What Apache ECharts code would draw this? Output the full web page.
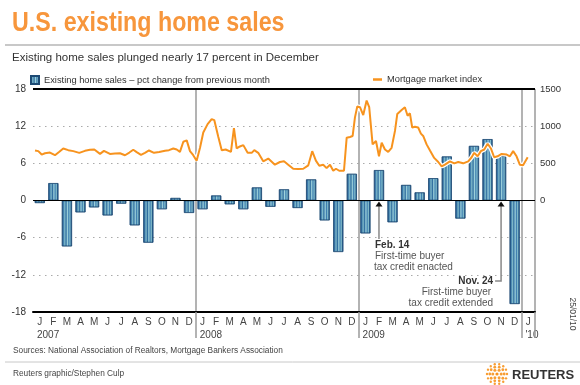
<!DOCTYPE html>
<html><head><meta charset="utf-8">
<script src="https://cdn.jsdelivr.net/npm/echarts@6/dist/echarts.min.js"></script>
<style>html,body{margin:0;padding:0;background:#fff}#c{width:580px;height:385px}</style>
</head><body><div id="c"></div>
<script>
// ---- data ----
const monthLetters = ['J','F','M','A','M','J','J','A','S','O','N','D'];
const categories = [].concat(monthLetters, monthLetters, monthLetters, ['J']);
const yearLabels = ['2007', '2008', '2009', "'10"];
const yearStartIndex = [0, 12, 24, 36];
// Existing home sales, pct change from previous month (Jan 2007 - Dec 2009)
const salesChange = [
  -0.4, 2.8, -7.4, -1.9, -1.1, -2.4, -0.5, -4.0, -6.8, -1.4, 0.4, -2.0,
  -1.4, 0.8, -0.6, -1.4, 2.1, -1.0, 1.8, -1.2, 3.4, -3.2, -8.3, 4.3,
  -5.3, 4.9, -3.5, 2.5, 1.3, 3.6, 7.1, -2.9, 8.8, 9.9, 7.2, -16.7,
  null
];
// Mortgage market index (weekly-ish), position in months since Jan 2007
const mortgageMonth = [
  0.15,0.39,0.64,0.88,1.25,1.62,1.94,2.23,2.60,2.97,
  3.41,3.83,4.20,4.52,4.94,5.23,5.67,6.04,6.41,6.78,
  7.10,7.39,7.64,7.96,8.25,8.55,8.92,9.30,9.73,10.02,
  10.34,10.59,10.83,11.08,11.33,11.57,11.81,12.06,12.31,12.55,
  12.87,13.17,13.36,13.66,13.91,14.20,14.59,14.81,15.01,15.25,
  15.50,15.82,16.12,16.31,16.60,16.97,17.34,17.83,18.20,18.50,
  18.81,19.18,19.55,19.92,20.29,20.58,20.85,21.10,21.39,21.64,
  21.89,22.13,22.33,22.57,22.92,23.12,23.36,23.56,23.73,23.90,
  24.10,24.34,24.59,24.78,25.03,25.28,25.50,25.70,25.94,26.18,
  26.43,26.68,26.85,27.17,27.41,27.61,27.78,27.95,28.15,28.39,
  28.59,28.76,29.01,29.26,29.57,29.87,30.12,30.36,30.73,31.05,
  31.34,31.71,32.08,32.33,32.52,32.77,33.01,33.26,33.51,33.75,
  33.99,34.24,34.54,34.91,35.15,35.39,35.64,35.88,36.12,36.46
];
const mortgageIndex = [
  673,664,618,636,645,609,655,700,677,664,
  641,668,682,686,627,668,627,632,636,609,
  645,682,650,614,641,673,641,652,668,677,
  700,686,655,791,809,664,609,536,709,914,
  1027,1095,1082,855,677,686,655,973,700,727,
  745,641,641,677,641,527,564,482,518,527,
  482,427,423,427,473,664,536,468,482,436,
  482,400,427,400,400,845,855,868,1118,1264,
  1255,1150,1345,1255,755,800,595,777,686,655,
  709,936,1164,1218,1255,1141,1173,982,991,982,
  900,868,755,673,573,518,459,482,527,500,
  518,500,527,582,641,595,664,686,764,700,
  582,595,627,618,595,664,595,482,473,582
];
const salesName = 'Existing home sales \u2013 pct change from previous month';
const mortgageName = 'Mortgage market index';

// ---- chart ----
const chart = echarts.init(document.getElementById('c'), null, {renderer: 'canvas'});
const FONT = 'Arial, "Liberation Sans", Helvetica, sans-serif';
const yearTick = (i) => i > 0 && i % 12 === 0;
const mortgagePairs = mortgageMonth.map((t, i) => [t, mortgageIndex[i]]);
const barGrad = new echarts.graphic.LinearGradient(0, 0, 1, 0, [
  {offset: 0, color: '#1d4f80'}, {offset: 0.14, color: '#3a78aa'},
  {offset: 0.28, color: '#7fb9c9'}, {offset: 0.42, color: '#2f6d9f'},
  {offset: 0.55, color: '#9fd3dc'}, {offset: 0.68, color: '#3f7fb0'},
  {offset: 0.8, color: '#86c0cc'}, {offset: 0.92, color: '#2a6396'},
  {offset: 1, color: '#1d4f80'}
]);

chart.setOption({
  animation: false,
  backgroundColor: '#fff',
  textStyle: {fontFamily: FONT},
  legend: [
    {data: [salesName], left: 30, top: 75, itemWidth: 8, itemHeight: 8, selectedMode: false,
      icon: 'rect', textStyle: {fontSize: 9.3, color: '#333', fontFamily: FONT}, padding: 0},
    {data: [mortgageName], left: 373, top: 75, itemWidth: 9, itemHeight: 2.5, selectedMode: false,
      icon: 'rect', itemGap: 2, textStyle: {fontSize: 9.3, color: '#333', fontFamily: FONT}, padding: 0}
  ],
  grid: {left: 33, right: 45, top: 89, bottom: 73, containLabel: false},
  xAxis: [
    {type: 'category', data: categories, boundaryGap: true, gridIndex: 0,
      axisLine: {onZero: false, lineStyle: {color: '#000', width: 2}},
      axisTick: {show: true, interval: yearTick, length: 26, lineStyle: {color: '#9a9a9a', width: 1.5}},
      axisLabel: {interval: 0, fontSize: 10, color: '#444', margin: 5, fontFamily: FONT},
      splitLine: {show: true, interval: yearTick, lineStyle: {color: '#9a9a9a', width: 1.5}}},
    {type: 'value', min: 0, max: 37, show: false, gridIndex: 0}
  ],
  yAxis: [
    {type: 'value', min: -18, max: 18, interval: 6,
      axisLine: {show: false}, axisTick: {show: false},
      axisLabel: {fontSize: 10, color: '#333', margin: 7, fontFamily: FONT},
      splitLine: {show: true, lineStyle: {color: '#aaa', width: 1, type: [1.5, 4.5]}}},
    {type: 'value', min: -1500, max: 1500, interval: 500, position: 'right',
      axisLine: {show: false}, axisTick: {show: false},
      axisLabel: {fontSize: 9.5, color: '#333', margin: 5, fontFamily: FONT,
        formatter: (v) => (v >= 0 ? String(v) : '')},
      splitLine: {show: false}}
  ],
  series: [
    {name: salesName, type: 'bar', xAxisIndex: 0, yAxisIndex: 0, data: salesChange,
      barWidth: 10, itemStyle: {color: barGrad, borderColor: '#1d4a74', borderWidth: 0.6},
      markLine: {silent: true, symbol: ['none', 'none'], label: {show: false},
        data: [
          {yAxis: 0, lineStyle: {color: '#000', width: 1.2, type: 'solid'}},
          {yAxis: 18, lineStyle: {color: '#000', width: 2, type: 'solid'}}
        ]}},
    {type: 'line', xAxisIndex: 1, yAxisIndex: 1, data: mortgagePairs, showSymbol: false,
      silent: true, lineStyle: {color: '#fff', width: 4.5}, itemStyle: {color: '#fff'}},
    {name: mortgageName, type: 'line', xAxisIndex: 1, yAxisIndex: 1, data: mortgagePairs,
      showSymbol: false, lineStyle: {color: '#f7931e', width: 2}, itemStyle: {color: '#f7931e'}}
  ]
});

// ---- annotations & decorations ----
function buildGraphics() {
  const g = [];
  const band = chart.convertToPixel({seriesIndex: 0}, [1, 0])[0] - chart.convertToPixel({seriesIndex: 0}, [0, 0])[0];
  // title (horizontally condensed)
  g.push({type: 'text', x: 12, y: 23, scaleX: 0.83, style: {text: 'U.S. existing home sales', fill: '#f7963c',
    font: 'bold 28px ' + FONT, verticalAlign: 'middle'}});
  // rule under title
  g.push({type: 'line', shape: {x1: 5, y1: 45, x2: 580, y2: 45}, style: {stroke: '#c8c8c8', lineWidth: 2}});
  g.push({type: 'text', x: 12, y: 58, style: {text: 'Existing home sales plunged nearly 17 percent in December',
    fill: '#333', font: '11.5px ' + FONT, verticalAlign: 'middle'}});
  // year labels
  yearLabels.forEach((lab, k) => {
    const c = chart.convertToPixel({seriesIndex: 0}, [yearStartIndex[k], 0])[0];
    g.push({type: 'text', x: c - band / 2 + 4, y: 335, style: {text: lab, fill: '#444',
      font: '10px ' + FONT, verticalAlign: 'middle'}});
  });
  // Feb 14 annotation
  const feb = chart.convertToPixel({seriesIndex: 0}, [25, 0]);
  g.push({type: 'line', shape: {x1: feb[0], y1: feb[1] + 4, x2: feb[0], y2: 239}, style: {stroke: '#888', lineWidth: 1.5}});
  g.push({type: 'polygon', shape: {points: [[feb[0], feb[1] + 1], [feb[0] - 3.5, feb[1] + 6], [feb[0] + 3.5, feb[1] + 6]]}, style: {fill: '#111'}});
  g.push({type: 'text', x: feb[0] - 4, y: 245, style: {text: 'Feb. 14', fill: '#333', font: 'bold 10px ' + FONT, verticalAlign: 'middle'}});
  g.push({type: 'text', x: feb[0] - 4, y: 256, style: {text: 'First-time buyer', fill: '#555', font: '10px ' + FONT, verticalAlign: 'middle'}});
  g.push({type: 'text', x: feb[0] - 5, y: 267, style: {text: 'tax credit enacted', fill: '#555', font: '10px ' + FONT, verticalAlign: 'middle'}});
  // Nov 24 annotation
  const nov = chart.convertToPixel({seriesIndex: 0}, [34, 0]);
  g.push({type: 'polyline', shape: {points: [[nov[0], nov[1] + 4], [nov[0], 281], [nov[0] - 6, 281]]}, style: {stroke: '#888', lineWidth: 1.5, fill: null}});
  g.push({type: 'polygon', shape: {points: [[nov[0], nov[1] + 1], [nov[0] - 3.5, nov[1] + 6], [nov[0] + 3.5, nov[1] + 6]]}, style: {fill: '#111'}});
  g.push({type: 'text', x: nov[0] - 8, y: 281, style: {text: 'Nov. 24', fill: '#333', font: 'bold 10px ' + FONT, align: 'right', verticalAlign: 'middle'}});
  g.push({type: 'text', x: nov[0] - 10, y: 292, style: {text: 'First-time buyer', fill: '#555', font: '10px ' + FONT, align: 'right', verticalAlign: 'middle'}});
  g.push({type: 'text', x: nov[0] - 8, y: 303, style: {text: 'tax credit extended', fill: '#555', font: '10px ' + FONT, align: 'right', verticalAlign: 'middle'}});
  // date stamp
  g.push({type: 'text', x: 572, y: 314, rotation: -Math.PI / 2, style: {text: '25/01/10', fill: '#444',
    font: '8.5px ' + FONT, align: 'center', verticalAlign: 'middle'}});
  // footer
  g.push({type: 'text', x: 13, y: 351, style: {text: 'Sources: National Association of Realtors, Mortgage Bankers Association',
    fill: '#444', font: '8.3px ' + FONT, verticalAlign: 'middle'}});
  g.push({type: 'line', shape: {x1: 5, y1: 362, x2: 580, y2: 362}, style: {stroke: '#c8c8c8', lineWidth: 1}});
  g.push({type: 'text', x: 13, y: 374, style: {text: 'Reuters graphic/Stephen Culp', fill: '#444', font: '8.3px ' + FONT, verticalAlign: 'middle'}});
  // Reuters logo
  const lx = 497, ly = 374;
  g.push({type: 'circle', shape: {cx: lx, cy: ly, r: 1.6}, style: {fill: '#f7931e'}});
  [[4.2, 6, 1.5], [7.2, 10, 1.4], [10, 14, 1.2]].forEach(([r, n, s]) => {
    for (let i = 0; i < n; i++) {
      const a = (i / n) * Math.PI * 2;
      g.push({type: 'circle', shape: {cx: lx + r * Math.cos(a), cy: ly + r * Math.sin(a), r: s}, style: {fill: '#f7931e', opacity: 0.9}});
    }
  });
  g.push({type: 'text', x: 512, y: 375, style: {text: 'REUTERS', fill: '#333', font: 'bold 13px ' + FONT, verticalAlign: 'middle'}});
  chart.setOption({graphic: g});
}
buildGraphics();
</script>
</body></html>
